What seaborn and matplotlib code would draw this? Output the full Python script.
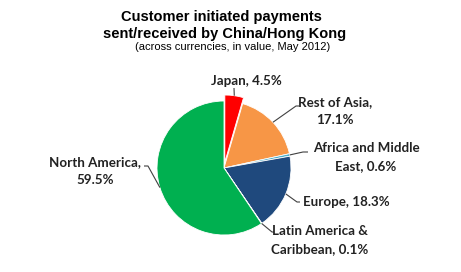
import numpy as np
import matplotlib
matplotlib.use("Agg")
import matplotlib.pyplot as plt
import seaborn as sns

# ---- data ----
regions = ["Japan", "Rest of Asia", "Africa and Middle\nEast", "Europe",
           "Latin America &\nCaribbean", "North America"]
shares = [4.5, 17.1, 0.6, 18.3, 0.1, 59.5]
label_texts = ["Japan, 4.5%", "Rest of Asia,\n17.1%", "Africa and Middle\nEast, 0.6%",
               "Europe, 18.3%", "Latin America &\nCaribbean, 0.1%", "North America,\n59.5%"]
title_lines = ["Customer initiated payments", "sent/received by China/Hong Kong"]
subtitle = "(across currencies, in value, May 2012)"

# ---- styles / layout ----
colors = ["#FF0000", "#F79646", "#4BACC6", "#1F497D", "#8064A2", "#00B050"]
explode = [0.09, 0, 0, 0, 0, 0]

sns.set_theme(style="white")
plt.rcParams["font.family"] = ["Lato", "DejaVu Sans"]

W, H = 461, 272
CX, CY, R = 224, 168, 67  # pie centre and radius in pixels


def px(x, y):
    return (x - CX) / R, (CY - y) / R


# label centres (pixels) and leader points (elbow, end) in pixels
label_pos = [(246, 81), (335, 111), (366, 157), (346, 202), (320, 240), (95, 171)]
leader_pts = [
    [(234, 88)],
    [(296, 106), (299, 106)],
    [(303, 152), (308, 152)],
    [(297, 202), (300, 202)],
    [(272, 232), (274, 232)],
    [(148, 166), (144, 166)],
]

fig = plt.figure(figsize=(W / 100, H / 100), dpi=100)
ax = fig.add_axes([0, 0, 1, 1])
wedges, _ = ax.pie(shares, colors=colors, startangle=90, counterclock=False,
                   explode=explode,
                   wedgeprops=dict(edgecolor="white", linewidth=0.6))
ax.set_xlim(-CX / R, (W - CX) / R)
ax.set_ylim(-(H - CY) / R, CY / R)
ax.set_aspect("equal")
ax.axis("off")

for w, txt, pos, pts in zip(wedges, label_texts, label_pos, leader_pts):
    mid = np.deg2rad((w.theta1 + w.theta2) / 2)
    cx, cy = w.center
    start = (cx + w.r * np.cos(mid), cy + w.r * np.sin(mid))
    xs = [start[0]] + [px(*p)[0] for p in pts]
    ys = [start[1]] + [px(*p)[1] for p in pts]
    ax.plot(xs, ys, color="#404040", lw=0.8, solid_capstyle="butt")
    tx, ty = px(*pos)
    ax.text(tx, ty, txt, ha="center", va="center", multialignment="center",
            fontsize=9.6, fontweight="bold", color="#222222", linespacing=1.55)

tfam = ["Liberation Sans", "DejaVu Sans"]
fig.text(221 / W, 1 - 17 / H, title_lines[0], ha="center", va="center",
         fontsize=10.5, fontweight="bold", family=tfam, color="black")
fig.text(225 / W, 1 - 34 / H, title_lines[1], ha="center", va="center",
         fontsize=10.5, fontweight="bold", family=tfam, color="black")
fig.text(233 / W, 1 - 47 / H, subtitle, ha="center", va="center",
         fontsize=8, family=tfam, color="black")

fig.savefig("out.png", dpi=100)
